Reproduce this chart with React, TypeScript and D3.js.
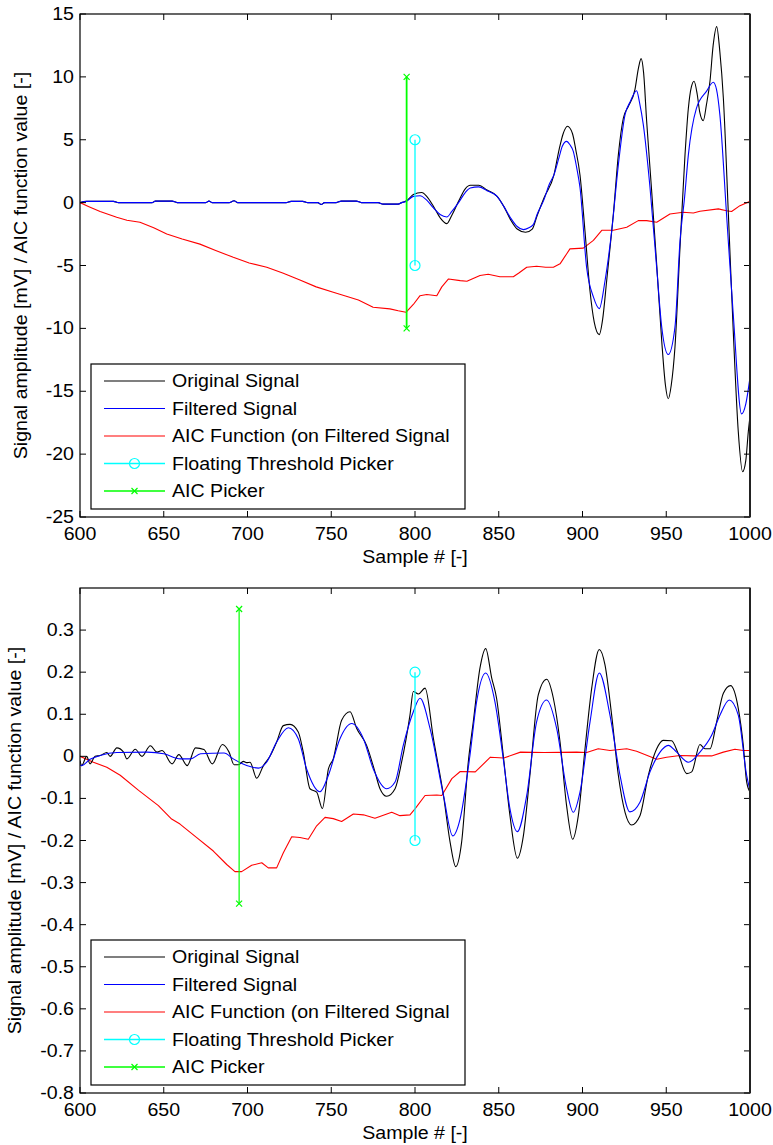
import React from "react";
import * as d3 from "d3";

type Pt = [number, number];

// ---------- shared axis data ----------
const xTicks = [600, 650, 700, 750, 800, 850, 900, 950, 1000];
const topYTicks = [-25, -20, -15, -10, -5, 0, 5, 10, 15];
const bottomYTicks = [-0.8, -0.7, -0.6, -0.5, -0.4, -0.3, -0.2, -0.1, 0, 0.1, 0.2, 0.3];
const legendLabels = [
  "Original Signal",
  "Filtered Signal",
  "AIC Function (on Filtered Signal",
  "Floating Threshold Picker",
  "AIC Picker",
];
const xLabel = "Sample # [-]";
const yLabel = "Signal amplitude [mV] / AIC function value [-]";

// ---------- top panel data ----------
const topQuiet: Pt[] = [
  [600, 0], [604, 0.1], [620, 0.1], [623, 0], [643, 0], [645, 0.12], [655, 0.12], [658, 0],
  [675, 0], [677, 0.12], [679, 0], [689, 0], [692, 0.15], [694, 0], [723, 0], [726, 0.1],
  [733, 0.1], [736, 0], [742, 0], [744, -0.15], [746, 0], [753, 0], [756, 0.12], [765, 0.12],
  [768, 0], [778, 0], [781, -0.12], [790, -0.12], [792, 0],
];
const topOriginal: Pt[] = [
  ...topQuiet,
  [795, 0.15], [799, 0.64], [804, 0.8], [807, 0.5], [811, -0.29], [815, -1.2], [819, -1.67],
  [822, -1.0], [826, 0.1], [830, 1.1], [833, 1.38], [838, 1.38], [843, 1.0], [849, 0.5],
  [853, -0.3], [857, -1.35], [861, -2.1], [866, -2.36], [870, -2.1], [873, -1.0], [877, 0.37],
  [883, 2.23], [886, 4.2], [888.5, 5.5], [891, 6.07], [894, 5.5], [896, 4.2], [898.5, 2.2],
  [901.5, -2.3], [904.5, -7.05], [907, -9.5], [910, -10.5], [912, -9.3], [914.4, -6.25],
  [916.5, -3.5], [918.4, -0.95], [921.4, 3.8], [924.4, 6.73], [927.4, 7.66], [931.3, 8.98],
  [933.4, 10.7], [935, 11.45], [936.5, 10.3], [938.3, 6.47], [941.3, 0.9], [944.3, -4.93],
  [947.3, -11], [949.5, -14.5], [951.2, -15.6], [953, -14.5], [955.2, -11.5], [958.2, -3.6],
  [961.2, 3.8], [963.2, 7.5], [965, 9.2], [966.6, 9.65], [968.5, 8.6], [970, 7.2], [972.1, 6.52],
  [974, 7.8], [976.1, 9.65], [978, 12.5], [980.1, 14.0], [982, 12.0], [984.1, 8.3],
  [987.1, -0.95], [990, -10.2], [993, -18.2], [995.6, -21.4], [997.5, -20.5], [999, -18.2],
  [1000, -17],
];
const topFiltered: Pt[] = [
  ...topQuiet,
  [795, 0.1], [799, 0.5], [803, 0.55], [807, 0.2], [811, -0.42], [815, -0.95], [819, -1.14],
  [822, -0.7], [826, 0], [830, 0.8], [833, 1.17], [838, 1.25], [843, 0.95], [849, 0.5],
  [853, -0.3], [857, -1.2], [861, -1.9], [864.7, -2.15], [868, -2.0], [870.6, -1.75],
  [873, -0.9], [877, 0.24], [880, 1.4], [883, 2.23], [886, 3.6], [888, 4.5], [890.5, 4.87],
  [892.5, 4.6], [894.5, 4.08], [896.5, 2.8], [898.5, 1.2], [902.5, -5.2], [906.5, -7.5],
  [910, -8.43], [913.4, -6.25], [917.4, -2.3], [921.4, 3.0], [925.4, 7.0], [928.4, 8.0],
  [932.3, 8.9], [934, 8.0], [936.3, 6.2], [940.3, 1.2], [944.3, -5.2], [947.3, -9.9],
  [951.2, -12.08], [955.2, -9.9], [958.2, -3.1], [961, 0.5], [963.2, 3.8], [968, 7.5],
  [974, 8.85], [978.1, 9.57], [980, 9.0], [982, 7.0], [986, -0.95], [990, -8.9],
  [995, -16.8], [997.5, -16.0], [1000, -13.9],
];
const topAIC: Pt[] = [
  [600, 0], [605, -0.3], [612, -0.7], [621.9, -1.17], [628, -1.4], [635.8, -1.56], [644, -2.0],
  [651.8, -2.5], [661, -2.9], [671.6, -3.3], [681, -3.8], [691.5, -4.35], [701, -4.8],
  [711.5, -5.14], [721, -5.6], [731.3, -6.15], [741, -6.7], [751.2, -7.13], [758, -7.4],
  [766.2, -7.74], [775, -8.32], [785, -8.45], [790, -8.6], [794.6, -8.72], [799, -8.1],
  [803, -7.4], [807, -7.3], [813, -7.4], [816, -6.7], [820, -6.07], [827, -6.2], [831, -6.25],
  [838.8, -5.8], [843.7, -5.7], [850.7, -5.9], [858.7, -5.9], [862, -5.6], [866.7, -5.14],
  [872.6, -5.06], [878, -5.14], [882.6, -5.14], [886.6, -4.87], [890.5, -4.08], [892.5, -3.68],
  [900.5, -3.62], [906.5, -3.0], [911.5, -2.2], [918.4, -2.2], [926.4, -1.96], [933.3, -1.43],
  [938.3, -1.43], [944.3, -1.56], [952.2, -0.9], [960.1, -0.77], [966.2, -0.82], [970.1, -0.69],
  [981.1, -0.5], [986, -0.64], [989, -0.71], [994, -0.24], [1000, 0.1],
];
const topAicPick = { sample: 795, lo: -10, hi: 10 };
const topThrPick = { sample: 800, lo: -5, hi: 5 };

// ---------- bottom panel data ----------
const botOriginal: Pt[] = [
  [600, -0.01], [601, -0.022], [604, 0], [606, -0.018], [609, 0], [612, 0.002], [616, 0.009],
  [618, 0], [622, 0.02], [626, 0.01], [628, -0.006], [633, 0.017], [637, 0], [642, 0.025],
  [646, 0.01], [649, 0.014], [655, -0.018], [659, 0.004], [664, -0.022], [669, 0.02],
  [674, 0.016], [679, -0.018], [685, 0.028], [689, 0.01], [692, -0.02], [694.5, -0.02],
  [697.5, -0.012], [699.5, -0.015], [701.5, -0.014], [705.5, -0.052], [709.5, -0.022],
  [713.4, 0], [717.4, 0.034], [721.4, 0.073], [725.4, 0.076], [730.3, 0.058], [733.3, 0.01],
  [737.3, -0.077], [741.3, -0.085], [744.7, -0.124], [748.3, -0.03], [751.2, -0.006],
  [756.2, 0.086], [761.2, 0.106], [765.2, 0.066], [771.1, 0.026], [776.1, -0.037],
  [779.1, -0.077], [783.1, -0.095], [788.1, -0.077], [792, -0.014], [797, 0.098], [799, 0.154],
  [802, 0.148], [806, 0.162], [811, 0.042], [817, -0.093], [821, -0.205], [824.3, -0.262],
  [827.8, -0.205], [831.8, -0.014], [834.8, 0.082], [838.8, 0.21], [842.2, 0.256],
  [845.8, 0.186], [848.7, 0.138], [852.7, 0.002], [856.7, -0.141], [861.1, -0.242],
  [864.7, -0.189], [868.6, -0.045], [873.6, 0.146], [878.6, 0.183], [882.6, 0.138],
  [886.6, 0.034], [890.5, -0.117], [894.1, -0.197], [897.5, -0.141], [901.5, 0.018],
  [905.5, 0.162], [910, 0.254], [913.4, 0.218], [917.4, 0.098], [921.4, -0.045],
  [925.4, -0.133], [929.3, -0.163], [934.3, -0.141], [939.3, -0.045], [944.3, 0.018],
  [948.2, 0.038], [953.2, 0.037], [957.2, 0.006], [962.2, -0.041], [965.2, -0.037],
  [970.1, 0.028], [973.1, 0.018], [976.1, 0.018], [980.1, 0.082], [984.1, 0.15],
  [988.4, 0.168], [993, 0.114], [996, 0.026], [998, -0.061], [1000, -0.085],
];
const botFiltered: Pt[] = [
  [600, -0.02], [601, -0.022], [606, -0.007], [612, 0.002], [622, 0.009], [640, 0.01],
  [650, 0.006], [660, -0.006], [666, -0.006], [672, 0.006], [686, 0.008], [691.5, -0.006],
  [699.5, -0.022], [706.5, -0.028], [711.4, -0.014], [717.4, 0.034], [724.4, 0.068],
  [730.3, 0.042], [735.3, -0.03], [743.3, -0.084], [748.3, -0.045], [755.2, 0.042],
  [762.2, 0.078], [769.2, 0.042], [775.1, -0.03], [783.1, -0.077], [788.1, -0.061],
  [793, 0.026], [799, 0.106], [803, 0.138], [809, 0.066], [817, -0.093], [822.5, -0.189],
  [826.9, -0.149], [832.8, 0.002], [836.8, 0.13], [842.2, 0.198], [847.7, 0.13],
  [852.7, -0.006], [856.7, -0.125], [861.1, -0.179], [866.7, -0.093], [872.6, 0.082],
  [878.6, 0.134], [884.6, 0.066], [890.5, -0.077], [894.5, -0.133], [898.5, -0.085],
  [904.5, 0.082], [910, 0.198], [916.4, 0.098], [922.4, -0.045], [928.3, -0.132],
  [934.3, -0.109], [940.3, -0.037], [946.3, 0.01], [951.2, 0.026], [956.2, 0.01],
  [963.2, -0.014], [970.1, 0.01], [977.1, 0.05], [982.1, 0.098], [987.6, 0.134],
  [993, 0.098], [998, -0.045], [1000, -0.081],
];
const botAIC: Pt[] = [
  [600, 0], [608, -0.014], [616, -0.026], [624, -0.045], [635, -0.081], [646.8, -0.117],
  [654.7, -0.149], [659.7, -0.161], [669.7, -0.193], [679.6, -0.225], [687.6, -0.257],
  [692.5, -0.274], [696.5, -0.274], [702.5, -0.259], [708.5, -0.253], [712.4, -0.265],
  [717.4, -0.265], [721.4, -0.229], [726.4, -0.191], [731.3, -0.193], [736.3, -0.197],
  [741.3, -0.165], [746.3, -0.145], [751.2, -0.148], [756.2, -0.155], [763.2, -0.137],
  [769.2, -0.139], [776.1, -0.147], [786.1, -0.133], [791, -0.141], [797, -0.139],
  [800, -0.125], [806, -0.093], [813, -0.092], [816, -0.093], [822, -0.053], [827, -0.036],
  [836, -0.037], [845, -0.002], [853, -0.004], [863, 0.01], [877, 0.009], [896.5, 0.01],
  [902.5, 0.009], [909.4, 0.018], [916.4, 0.014], [926.4, 0.018], [932.3, 0.012],
  [941.3, -0.002], [944.3, -0.007], [950.2, -0.002], [958.2, 0.002], [966.2, 0.001],
  [977.1, 0.001], [984.1, 0.01], [991, 0.017], [996, 0.014], [1000, 0.014],
];
const botAicPick = { sample: 695, lo: -0.35, hi: 0.35 };
const botThrPick = { sample: 800, lo: -0.2, hi: 0.2 };

// ---------- styling ----------
const FONT = "'Liberation Sans', Arial, Helvetica, sans-serif";
const FS = 17.5;
const SX = 1.12;
const C_ORIG = "#000000";
const C_FILT = "#0000ff";
const C_AIC = "#ff0000";
const C_THR = "#00ffff";
const C_PICK = "#00ff00";

function T({ x, y, anchor = "start", rotate = 0, children }: any) {
  return (
    <g transform={`translate(${x},${y}) rotate(${rotate}) scale(${SX},1)`}>
      <text x={0} y={0} textAnchor={anchor} fontFamily={FONT} fontSize={FS} fill="#000">
        {children}
      </text>
    </g>
  );
}

function XMark({ x, y, color }: any) {
  const s = 3;
  return (
    <path
      d={`M${x - s},${y - s}L${x + s},${y + s}M${x - s},${y + s}L${x + s},${y - s}`}
      stroke={color}
      strokeWidth={1.2}
      fill="none"
    />
  );
}

function Panel(props: any) {
  const {
    id, top, bottom, left, right, yDomain, yTicks, fmt, orig, filt, aic,
    aicPick, thrPick, legendTop, yLabelX, pickWidth,
  } = props;
  const x = d3.scaleLinear().domain([600, 1000]).range([left, right]);
  const y = d3.scaleLinear().domain(yDomain).range([bottom, top]);
  const smooth = d3
    .line<Pt>()
    .x((d) => x(d[0]))
    .y((d) => y(d[1]))
    .curve(d3.curveMonotoneX);
  const straight = d3
    .line<Pt>()
    .x((d) => x(d[0]))
    .y((d) => y(d[1]));

  const tl = 6;
  const legLeft = 91;
  const legRight = 465;
  const rowGap = 27.5;
  const rows = legendLabels.map((_, i) => legendTop + 17 + i * rowGap);
  const legBottom = legendTop + 145;

  return (
    <g>
      <defs>
        <clipPath id={id}>
          <rect x={left} y={top} width={right - left} height={bottom - top} />
        </clipPath>
      </defs>
      <rect x={left} y={top} width={right - left} height={bottom - top} fill="#fff" />

      <g clipPath={`url(#${id})`} fill="none" strokeLinejoin="round">
        <path d={straight(aic) || ""} stroke={C_AIC} strokeWidth={1.1} />
        <path d={smooth(orig) || ""} stroke={C_ORIG} strokeWidth={1.1} />
        <path d={smooth(filt) || ""} stroke={C_FILT} strokeWidth={1.1} />
        {/* AIC picker */}
        <line
          x1={x(aicPick.sample)} x2={x(aicPick.sample)}
          y1={y(aicPick.lo)} y2={y(aicPick.hi)}
          stroke={C_PICK} strokeWidth={pickWidth}
        />
        <XMark x={x(aicPick.sample)} y={y(aicPick.lo)} color={C_PICK} />
        <XMark x={x(aicPick.sample)} y={y(aicPick.hi)} color={C_PICK} />
        {/* Floating threshold picker */}
        <line
          x1={x(thrPick.sample)} x2={x(thrPick.sample)}
          y1={y(thrPick.lo)} y2={y(thrPick.hi)}
          stroke={C_THR} strokeWidth={1.3}
        />
        <circle cx={x(thrPick.sample)} cy={y(thrPick.lo)} r={5} stroke={C_THR} strokeWidth={1.2} />
        <circle cx={x(thrPick.sample)} cy={y(thrPick.hi)} r={5} stroke={C_THR} strokeWidth={1.2} />
      </g>

      {/* ticks */}
      <g stroke="#000" strokeWidth={1}>
        {xTicks.map((t) => (
          <g key={"xt" + t}>
            <line x1={x(t)} x2={x(t)} y1={bottom} y2={bottom - tl} />
            <line x1={x(t)} x2={x(t)} y1={top} y2={top + tl} />
          </g>
        ))}
        {yTicks.map((t: number) => (
          <g key={"yt" + t}>
            <line x1={left} x2={left + tl} y1={y(t)} y2={y(t)} />
            <line x1={right} x2={right - tl} y1={y(t)} y2={y(t)} />
          </g>
        ))}
      </g>

      {/* box */}
      <rect x={left} y={top} width={right - left} height={bottom - top} fill="none" stroke="#000" strokeWidth={1.2} />
      <line x1={right} x2={right} y1={top} y2={bottom} stroke="#222" strokeWidth={2} />

      {/* tick labels */}
      {xTicks.map((t) => (
        <T key={"xl" + t} x={x(t)} y={bottom + 23} anchor="middle">
          {String(t)}
        </T>
      ))}
      {yTicks.map((t: number) => (
        <T key={"yl" + t} x={left - 6} y={y(t) + 6} anchor="end">
          {fmt(t)}
        </T>
      ))}

      {/* axis labels */}
      <T x={(left + right) / 2} y={bottom + 45.5} anchor="middle">
        {xLabel}
      </T>
      <T x={yLabelX} y={(top + bottom) / 2} anchor="middle" rotate={-90}>
        {yLabel}
      </T>

      {/* legend */}
      <rect
        x={legLeft} y={legendTop} width={legRight - legLeft} height={legBottom - legendTop}
        fill="#fff" stroke="#000" strokeWidth={1.2}
      />
      {legendLabels.map((lab, i) => {
        const ry = rows[i];
        const colors = [C_ORIG, C_FILT, C_AIC, C_THR, C_PICK];
        return (
          <g key={"lg" + i}>
            <line x1={104} x2={165} y1={ry} y2={ry} stroke={colors[i]} strokeWidth={i >= 3 ? 1.5 : 1.1} />
            {i === 3 && <circle cx={134.5} cy={ry} r={5} fill="none" stroke={C_THR} strokeWidth={1.2} />}
            {i === 4 && <XMark x={134.5} y={ry} color={C_PICK} />}
            <T x={172} y={ry + 6}>
              {lab}
            </T>
          </g>
        );
      })}
    </g>
  );
}

const fmtInt = (v: number) => String(v);
const fmtDec = (v: number) => (Math.abs(v) < 1e-9 ? "0" : String(+v.toFixed(1)));

export default function App() {
  return (
    <svg
      width={773}
      height={1145}
      viewBox="0 0 773 1145"
      style={{ position: "absolute", left: 0, top: 0, background: "#fff", display: "block" }}
    >
      <rect x={0} y={0} width={773} height={1145} fill="#fff" />
      <Panel
        id="clipTop"
        top={14}
        bottom={517}
        left={80}
        right={750}
        yDomain={[-25, 15]}
        yTicks={topYTicks}
        fmt={fmtInt}
        orig={topOriginal}
        filt={topFiltered}
        aic={topAIC}
        aicPick={topAicPick}
        thrPick={topThrPick}
        legendTop={364}
        yLabelX={27}
        pickWidth={1.8}
      />
      <Panel
        id="clipBot"
        top={588}
        bottom={1093}
        left={80}
        right={750}
        yDomain={[-0.8, 0.4]}
        yTicks={bottomYTicks}
        fmt={fmtDec}
        orig={botOriginal}
        filt={botFiltered}
        aic={botAIC}
        aicPick={botAicPick}
        thrPick={botThrPick}
        legendTop={940}
        yLabelX={21}
        pickWidth={1.2}
      />
    </svg>
  );
}
